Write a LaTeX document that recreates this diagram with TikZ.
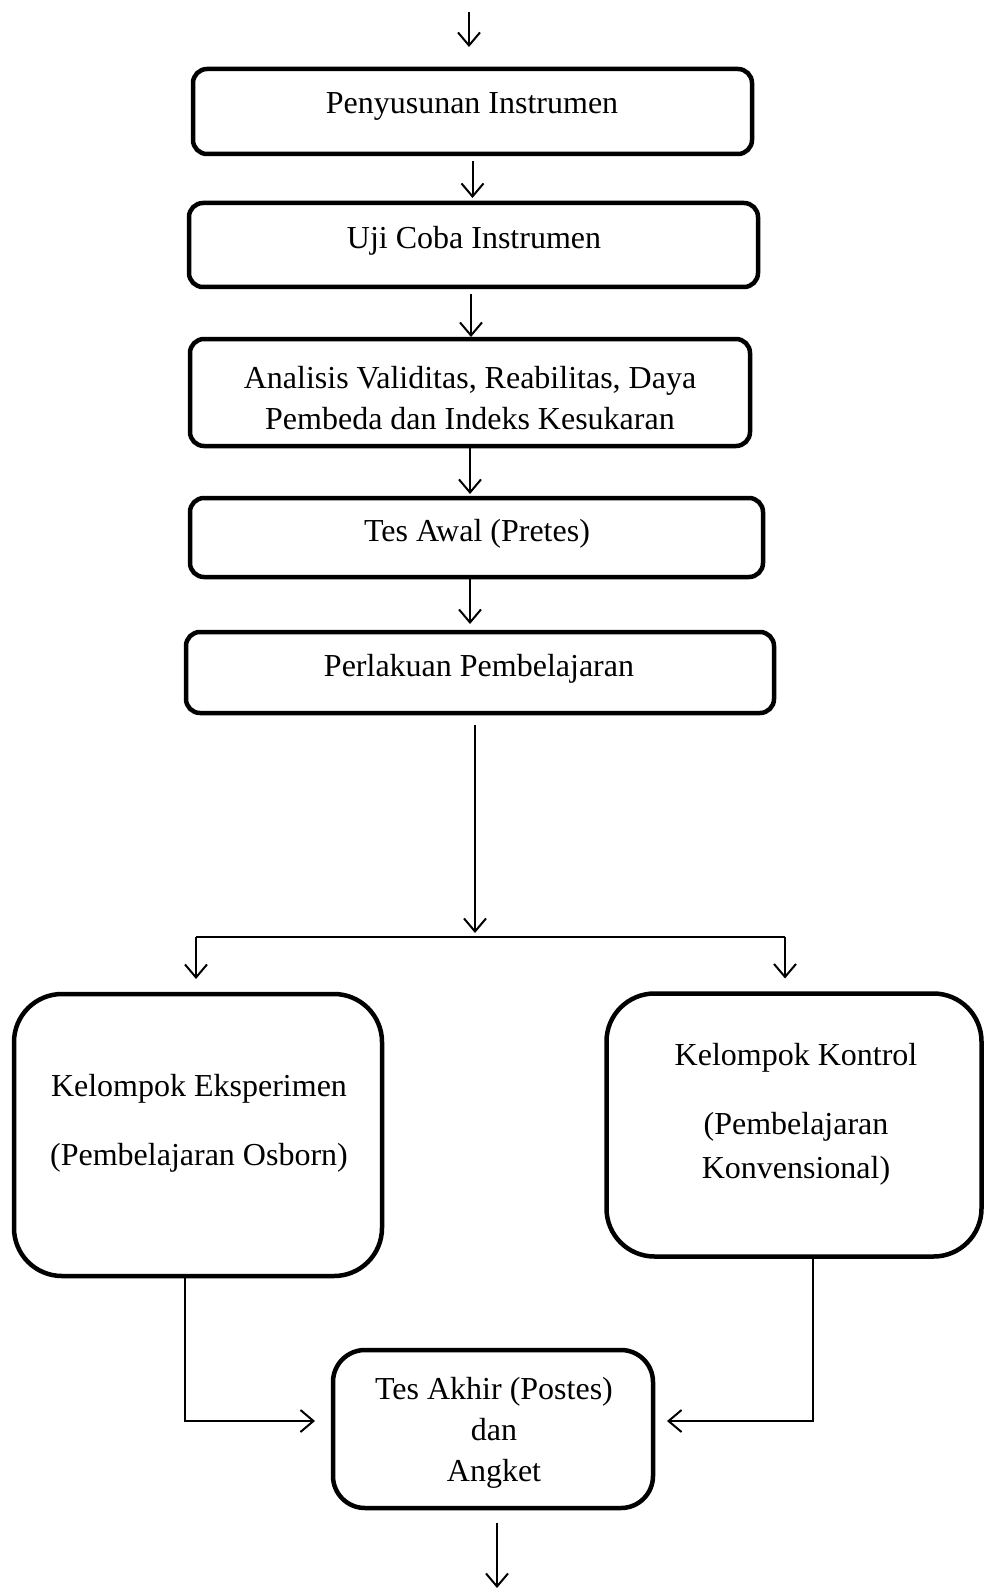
\documentclass[tikz,border=0pt]{standalone}
\usepackage{fontspec}
\setmainfont{Liberation Serif}
\usetikzlibrary{arrows.meta,calc}
\begin{document}
\begin{tikzpicture}[x=1pt,y=-1pt,
  stepbox/.style={draw, line width=4.5pt, rounded corners=14pt, inner sep=0pt, outer sep=0pt},
  bigbox/.style={draw, line width=4.5pt, rounded corners=48pt, inner sep=0pt, outer sep=0pt},
  txt/.style={inner sep=0pt, align=center, font=\fontsize{32}{41}\selectfont},
  conn/.style={line width=2pt},
  arr/.style={line width=2pt, -{Straight Barb[length=13pt,width=22pt,line width=2pt]}}]
\useasboundingbox (0,0) rectangle (983,1594);
% boxes
\node[stepbox, minimum width=559pt, minimum height=85pt] (b1) at (472.5,111.5) {};
\node[stepbox, minimum width=569pt, minimum height=84pt] (b2) at (473.5,245) {};
\node[stepbox, minimum width=560pt, minimum height=107pt] (b3) at (470,392.5) {};
\node[stepbox, minimum width=573pt, minimum height=79pt] (b4) at (476.5,537.5) {};
\node[stepbox, minimum width=588pt, minimum height=81pt] (b5) at (480,672.5) {};
\node[bigbox, minimum width=368pt, minimum height=282pt] (le) at (198,1135) {};
\node[bigbox, minimum width=375pt, minimum height=263pt] (ri) at (794,1125) {};
\node[stepbox, rounded corners=32pt, minimum width=320pt, minimum height=158pt] (ta) at (493,1429) {};
% texts
\node[txt] (t1) at (472,106) {Penyusunan Instrumen};
\node[txt] (t2) at (474,241) {Uji Coba Instrumen};
\node[txt] (t3) at (470,398) {Analisis Validitas, Reabilitas, Daya\\Pembeda dan Indeks Kesukaran};
\node[txt] (t4) at (477,534) {Tes Awal (Pretes)};
\node[txt] (t5) at (479,669) {Perlakuan Pembelajaran};
\node[txt] (tl) at (199,1123.5) {Kelompok Eksperimen\\[28pt](Pembelajaran Osborn)};
\node[txt] (tr) at (796,1114) {Kelompok Kontrol\\[28pt](Pembelajaran\\[3pt]Konvensional)};
\node[txt] (tt) at (494,1433) {Tes Akhir (Postes)\\dan\\Angket};
% coordinates
\coordinate (top) at (469,12);
\coordinate (bot) at (497,1588);
\coordinate (a23) at (471,294);
\coordinate (j) at (475,937);
\coordinate (jl) at (196,937);
\coordinate (jr) at (785,937);
\coordinate (lc) at (185,1421);
\coordinate (rc) at (813,1421);
% connectors
\draw[arr, shorten >=22pt] (top) -- (top |- b1.north);
\draw[arr, shorten <=7pt, shorten >=5pt] (b1.south) -- (b1.south |- b2.north);
\draw[arr, shorten >=2pt] (a23) -- (a23 |- b3.north);
\draw[arr, shorten <=2pt, shorten >=4pt] (b3.south) -- (b3.south |- b4.north);
\draw[arr, shorten <=2pt, shorten >=8pt] (b4.south -| b3.south) -- (b3.south |- b5.north);
\draw[arr, shorten <=12pt, shorten >=4pt] (b5.south -| j) -- (j);
\draw[conn] (jl) -- (jr);
\draw[arr, shorten >=15pt] (jl) -- (jl |- le.north);
\draw[arr, shorten >=15pt] (jr) -- (jr |- ri.north);
\draw[arr, shorten >=18pt] (lc |- le.south) -- (lc) -- (lc -| ta.west);
\draw[arr, shorten >=14pt] (rc |- ri.south) -- (rc) -- (rc -| ta.east);
\draw[arr, shorten <=15pt] (ta.south -| bot) -- (bot);
\end{tikzpicture}
\end{document}
